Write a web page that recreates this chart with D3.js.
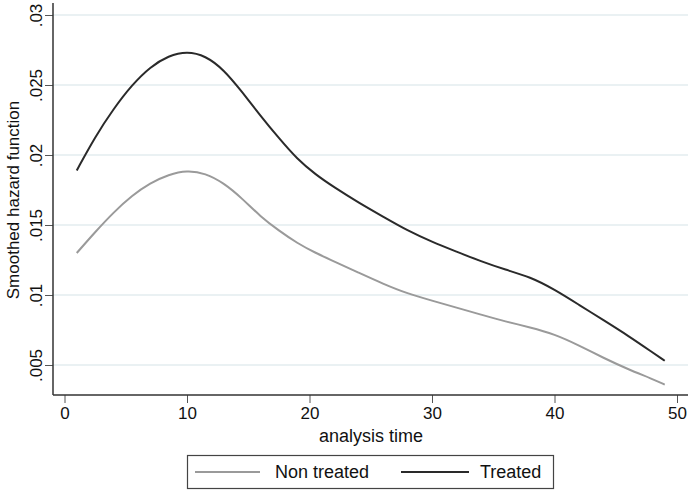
<!DOCTYPE html>
<html>
<head>
<meta charset="utf-8">
<script src="https://cdn.jsdelivr.net/npm/d3@7"></script>
<style>
  body { margin: 0; background: #fff; }
  text { font-family: "Liberation Sans", Arial, sans-serif; fill: #111; }
</style>
</head>
<body>
<div id="chart"></div>
<script>
// Data
var time = [1, 2.5, 4, 5.5, 7, 8.5, 10, 11.5, 13, 14.5, 16, 17.5, 19, 20.5, 22, 24, 26, 28,
            30, 32, 34, 36, 38, 40, 42, 44, 46, 48, 49];
var nonTreated = [0.0130, 0.0145, 0.0159, 0.0171, 0.0180, 0.0186, 0.0189, 0.0187, 0.0180, 0.0169,
                  0.0156, 0.0146, 0.0137, 0.0130, 0.0124, 0.0116, 0.0108, 0.0101, 0.0096, 0.0091,
                  0.0086, 0.0081, 0.0077, 0.0072, 0.0064, 0.0055, 0.0047, 0.0040, 0.0036];
var treated = [0.0189, 0.0213, 0.0233, 0.0250, 0.0263, 0.0271, 0.0274, 0.0271, 0.0261, 0.0245,
               0.0228, 0.0212, 0.0197, 0.0186, 0.0177, 0.0166, 0.0156, 0.0146, 0.0138, 0.0131,
               0.0124, 0.0118, 0.0113, 0.0104, 0.0093, 0.0082, 0.0071, 0.0059, 0.0053];
var xTicks = [0, 10, 20, 30, 40, 50];
var yTicks = [0.005, 0.01, 0.015, 0.02, 0.025, 0.03];
var yTickLabels = [".005", ".01", ".015", ".02", ".025", ".03"];
var seriesNames = ["Non treated", "Treated"];

var svgWidth = 688;
var svgHeight = 490;

// Plot box (axis lines sit at these edges)
var box = { left: 53, right: 688, top: 3, bottom: 395 };

var svg = d3.select("#chart")
  .append("svg")
  .attr("width", svgWidth)
  .attr("height", svgHeight);

var xScale = d3.scaleLinear()
  .domain([0, 50])
  .range([64.5, 677]);

var yScale = d3.scaleLinear()
  .domain([0.005, 0.03])
  .range([365, 15]);

// Gridlines
svg.append("g")
  .selectAll("line")
  .data(yTicks)
  .enter()
  .append("line")
  .attr("x1", box.left)
  .attr("x2", box.right)
  .attr("y1", d => yScale(d))
  .attr("y2", d => yScale(d))
  .attr("stroke", "#eaf1f3")
  .attr("stroke-width", 2);

// Y axis
var leftAxis = d3.axisLeft(yScale)
  .tickValues(yTicks)
  .tickSize(8)
  .tickFormat((d, i) => yTickLabels[i]);

var yAxisG = svg.append("g")
  .attr("transform", `translate(${box.left}, 0)`)
  .call(leftAxis);
yAxisG.select(".domain").remove();
yAxisG.selectAll(".tick line").attr("stroke", "#555");
yAxisG.selectAll(".tick text")
  .attr("x", null)
  .attr("dy", null)
  .attr("text-anchor", "middle")
  .attr("transform", "translate(-11, 0) rotate(-90)")
  .style("font-size", "17px");

// X axis
var bottomAxis = d3.axisBottom(xScale)
  .tickValues(xTicks)
  .tickSize(8)
  .tickFormat(d3.format("d"));

var xAxisG = svg.append("g")
  .attr("transform", `translate(0, ${box.bottom})`)
  .call(bottomAxis);
xAxisG.select(".domain").remove();
xAxisG.selectAll(".tick line").attr("stroke", "#555");
xAxisG.selectAll(".tick text")
  .attr("y", 12)
  .attr("dy", "0.71em")
  .style("font-size", "17px");

// Axis lines
svg.append("line")
  .attr("x1", box.left).attr("x2", box.left)
  .attr("y1", box.top).attr("y2", box.bottom)
  .attr("stroke", "#333").attr("stroke-width", 1.5);
svg.append("line")
  .attr("x1", box.left).attr("x2", box.right)
  .attr("y1", box.bottom).attr("y2", box.bottom)
  .attr("stroke", "#333").attr("stroke-width", 1.5);

// Axis titles
svg.append("text")
  .attr("x", 371)
  .attr("y", 442)
  .attr("text-anchor", "middle")
  .style("font-size", "18px")
  .text("analysis time");

svg.append("text")
  .attr("transform", "translate(19, 200) rotate(-90)")
  .attr("text-anchor", "middle")
  .style("font-size", "17px")
  .text("Smoothed hazard function");

// Curves (smoothed)
var line = d3.line()
  .x((d, i) => xScale(time[i]))
  .y(d => yScale(d))
  .curve(d3.curveBasis);

svg.append("path")
  .datum(nonTreated)
  .attr("d", line)
  .attr("fill", "none")
  .attr("stroke", "#9a9a9a")
  .attr("stroke-width", 2);

svg.append("path")
  .datum(treated)
  .attr("d", line)
  .attr("fill", "none")
  .attr("stroke", "#2a2a2a")
  .attr("stroke-width", 2);

// Legend
var legend = svg.append("g");
legend.append("rect")
  .attr("x", 187.5).attr("y", 455.5)
  .attr("width", 366).attr("height", 33)
  .attr("fill", "#fff")
  .attr("stroke", "#444")
  .attr("stroke-width", 1.2);

var legendItems = [
  { name: seriesNames[0], color: "#9a9a9a", x1: 195, x2: 260, tx: 275 },
  { name: seriesNames[1], color: "#2a2a2a", x1: 401, x2: 469, tx: 480 }
];

legendItems.forEach(function(item) {
  legend.append("line")
    .attr("x1", item.x1).attr("x2", item.x2)
    .attr("y1", 472).attr("y2", 472)
    .attr("stroke", item.color)
    .attr("stroke-width", 2);
  legend.append("text")
    .attr("x", item.tx)
    .attr("y", 478)
    .style("font-size", "18px")
    .text(item.name);
});
</script>
</body>
</html>
